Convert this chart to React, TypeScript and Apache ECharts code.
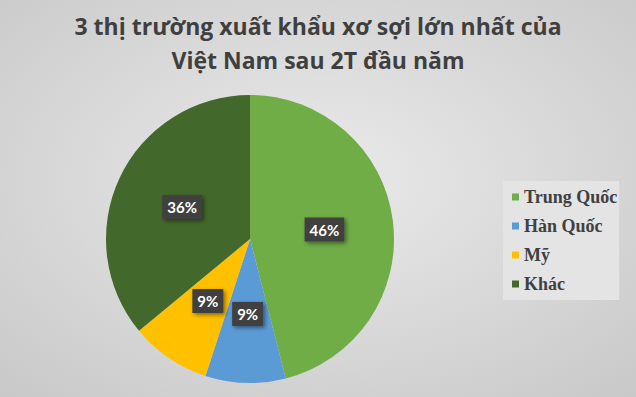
import React, { useEffect, useRef } from "react";
import * as echarts from "echarts";

const titleLines = ["3 thị trường xuất khẩu xơ sợi lớn nhất của", "Việt Nam sau 2T đầu năm"];
const categories = ["Trung Quốc", "Hàn Quốc", "Mỹ", "Khác"];
const shares = [46, 9, 9, 36];
const colors = ["#70ad47", "#5b9bd5", "#ffc000", "#43682b"];

export default function App() {
  const ref = useRef<HTMLDivElement>(null);
  useEffect(() => {
    if (!ref.current) return;
    const chart = echarts.init(ref.current, null, { renderer: "svg" });
    chart.setOption({
      animation: false,
      backgroundColor: {
        type: "radial",
        x: 0.5,
        y: 0.45,
        r: 0.75,
        colorStops: [
          { offset: 0, color: "#eaeaea" },
          { offset: 1, color: "#c8c8c8" },
        ],
      },
      title: {
        text: titleLines.join("\n"),
        left: "center",
        top: 4,
        textStyle: {
          fontFamily: "Open Sans",
          fontWeight: "bold",
          fontSize: 23,
          lineHeight: 34,
          color: "#3f3f3f",
        },
      },
      legend: {
        orient: "vertical",
        left: 503,
        top: 181,
        width: 114,
        padding: [7, 2, 7, 9],
        backgroundColor: "#e4e4e4",
        icon: "rect",
        itemWidth: 7,
        itemHeight: 7,
        itemGap: 11,
        data: categories,
        textStyle: {
          fontFamily: "Liberation Serif",
          fontWeight: "bold",
          fontSize: 18,
          color: "#404040",
        },
      },
      series: [
        {
          type: "pie",
          center: [250, 239],
          radius: 144,
          startAngle: 90,
          clockwise: true,
          label: {
            show: true,
            position: "inside",
            formatter: (p: any) => p.value + "%",
            color: "#ffffff",
            fontFamily: "Lato",
            fontWeight: "bold",
            fontSize: 15,
            backgroundColor: "#404040",
            padding: [5, 5, 4, 5],
            shadowBlur: 4,
            shadowColor: "rgba(0,0,0,0.45)",
            shadowOffsetX: 2,
            shadowOffsetY: 2,
          },
          labelLine: { show: false },
          itemStyle: { borderWidth: 0 },
          emphasis: { disabled: true },
          data: categories.map((name, i) => ({
            name,
            value: shares[i],
            itemStyle: { color: colors[i] },
          })),
        },
      ],
    });
    return () => chart.dispose();
  }, []);
  return (
    <div
      ref={ref}
      style={{ position: "absolute", left: 0, top: 0, width: 636, height: 397 }}
    />
  );
}
